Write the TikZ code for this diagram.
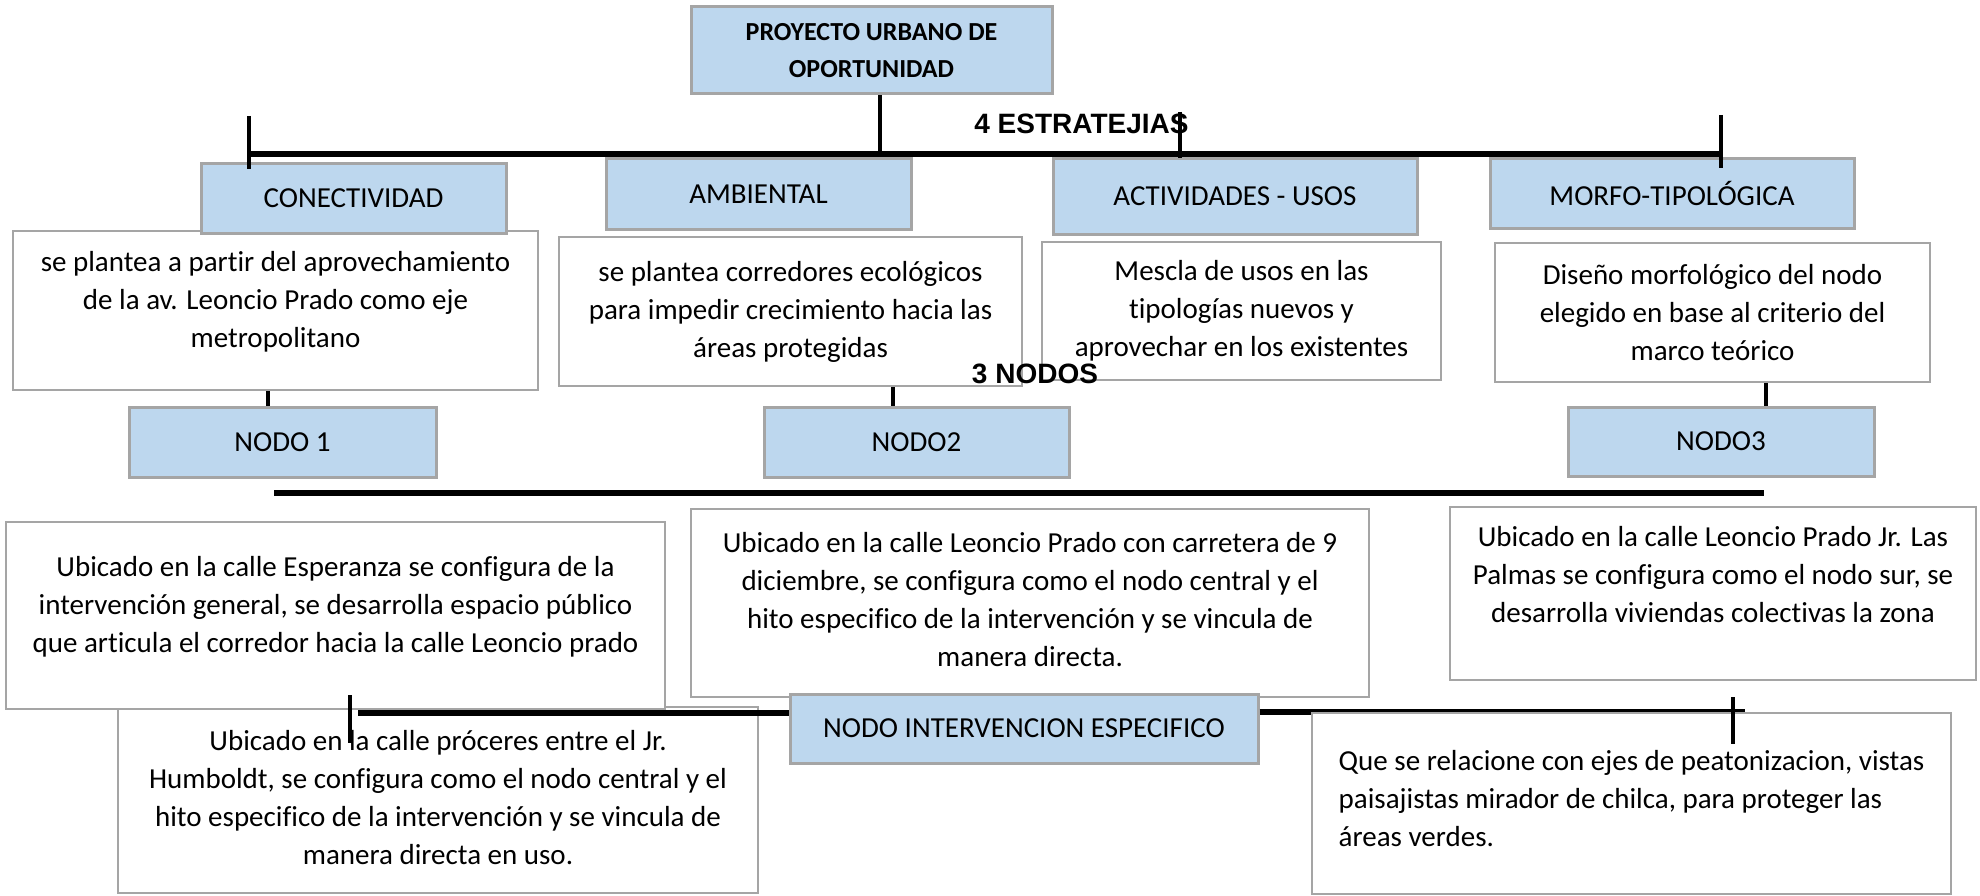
\documentclass[tikz,border=0pt]{standalone}
\usepackage{fontspec}
\setmainfont{Carlito}[Ligatures=NoCommon]
\newfontfamily\headfont{Liberation Sans}
\definecolor{boxblue}{HTML}{BDD7EE}
\definecolor{linegray}{HTML}{A5A5A5}
\begin{document}
\begin{tikzpicture}[x=1pt, y=-1pt,
    wh/.style 2 args={minimum width=#1pt, minimum height=#2pt},
    hbox/.style={draw=linegray, line width=3pt, fill=boxblue, inner sep=0pt,
      font=\fontsize{29}{38}\selectfont},
    dbox/.style={draw=linegray, line width=2pt, fill=white, inner sep=0pt, align=center,
      font=\fontsize{29}{38}\selectfont},
    tag/.style={font=\headfont\bfseries\fontsize{28}{34}\selectfont, anchor=base},
    thickline/.style={line width=5.5pt},
    stemline/.style={line width=4pt}]
  \useasboundingbox (0,0) rectangle (1980,896);
  \fill[white] (0,0) rectangle (1980,896);
  \node[dbox, wh={525}{159}, text depth=22pt] (d1) at (275.5,310.5) {se plantea a partir del aprovechamiento\\de la av. Leoncio Prado como eje\\metropolitano};
  \node[dbox, wh={463}{149}] (d2) at (790.5,311.5) {se plantea corredores ecológicos\\para impedir crecimiento hacia las\\áreas protegidas};
  \node[dbox, wh={399}{138}] (d3) at (1241.5,311) {Mescla de usos en las\\tipologías nuevos y\\aprovechar en los existentes};
  \node[dbox, wh={435}{139}] (d4) at (1712.5,312.5) {Diseño morfológico del nodo\\elegido en base al criterio del\\marco teórico};
  \node[hbox, wh={305}{69}] (con) at (353.5,198.5) {CONECTIVIDAD};
  \node[hbox, wh={305}{70}] (amb) at (758.5,194) {AMBIENTAL};
  \node[hbox, wh={364}{75}] (act) at (1235,196.5) {ACTIVIDADES - USOS};
  \node[hbox, wh={364}{69}] (mor) at (1672,193.5) {MORFO-TIPOLÓGICA};
  \node[hbox, wh={361}{87}, align=center, font=\bfseries\fontsize{26}{37}\selectfont] (top) at (871.5,50.5) {PROYECTO URBANO DE\\OPORTUNIDAD};
  \node[hbox, wh={307}{70}] (n1) at (282.5,442) {NODO 1};
  \node[hbox, wh={305}{70}] (n2) at (916.5,442) {NODO2};
  \node[hbox, wh={306}{69}] (n3) at (1721,441.5) {NODO3};
  \node[tag] (estr) at (1081.5,134) {4 ESTRATEJIAS};
  \node[tag] (nodos) at (1035,383) {3 NODOS};
  \coordinate (b1l) at (249,154);
  \coordinate (b1r) at (1723,154);
  \coordinate (ts) at (880,157);
  \draw[thickline] (b1l) -- (b1r);
  \draw[stemline] (ts |- top.south) -- (ts);
  \foreach \x/\a/\b [count=\i] in {249/116/169, 1180/112/158, 1721/115/168} {
    \coordinate (ta\i) at (\x,\a);
    \coordinate (tb\i) at (\x,\b);
    \draw[stemline] (ta\i) -- (tb\i);
  }
  \coordinate (k1) at (268,0);
  \coordinate (k2) at (893,0);
  \coordinate (k3) at (1766,0);
  \draw[stemline] (d1.south -| k1) -- (n1.north -| k1);
  \draw[stemline] (d2.south -| k2) -- (n2.north -| k2);
  \draw[stemline] (d4.south -| k3) -- (n3.north -| k3);
  \coordinate (b2l) at (274,493);
  \coordinate (b2r) at (1764,493);
  \draw[line width=6pt] (b2l) -- (b2r);
  \node[dbox, wh={640}{186}, text depth=6pt] (dD) at (438,800) {Ubicado en la calle próceres entre el Jr.\\Humboldt, se configura como el nodo central y el\\hito especifico de la intervención y se vincula de\\manera directa en uso.};
  \node[dbox, wh={678}{188}, text depth=8pt] (dB) at (1030,603) {Ubicado en la calle Leoncio Prado con carretera de 9\\diciembre, se configura como el nodo central y el\\hito especifico de la intervención y se vincula de\\manera directa.};
  \node[hbox, wh={468}{69}] (ni) at (1024,728.5) {NODO INTERVENCION ESPECIFICO};
  \coordinate (hl) at (358,713);
  \coordinate (hr) at (1745,712);
  \draw[thickline] (ni.west |- hl) -- (hl);
  \draw[thickline] (ni.east |- hr) -- (hr);
  \node[dbox, wh={659}{187}, text depth=23pt] (dA) at (335.5,615.5) {Ubicado en la calle Esperanza se configura de la\\intervención general, se desarrolla espacio público\\que articula el corredor hacia la calle Leoncio prado};
  \node[dbox, wh={639}{181}, align=left, text depth=10pt] (dE) at (1631.5,803.5) {Que se relacione con ejes de peatonizacion, vistas\\paisajistas mirador de chilca, para proteger las\\áreas verdes.};
  \node[dbox, wh={526}{173}] (dC) at (1713,593.5) {Ubicado en la calle Leoncio Prado Jr. Las\\Palmas se configura como el nodo sur, se\\desarrolla viviendas colectivas la zona\\\mbox{}};
  \coordinate (ul) at (349.5,695);
  \coordinate (dl) at (349.5,743);
  \coordinate (ur) at (1733,697);
  \coordinate (dr) at (1733,744);
  \draw[stemline] (ul) -- (dl);
  \draw[stemline] (ur) -- (dr);
\end{tikzpicture}
\end{document}
